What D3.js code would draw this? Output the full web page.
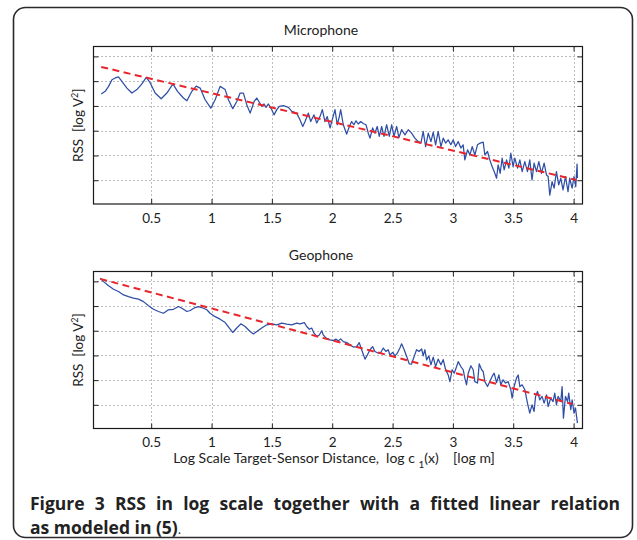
<!DOCTYPE html>
<html>
<head>
<meta charset="utf-8">
<script src="https://cdn.jsdelivr.net/npm/d3@7"></script>
<style>
  html, body { margin: 0; padding: 0; background: #fff; }
  svg { display: block; }
</style>
</head>
<body>
<svg id="chart" width="637" height="540"></svg>
<script>
// ---------------- DATA ----------------
const xTickValues = [0.5, 1, 1.5, 2, 2.5, 3, 3.5, 4];
const xTickLabels = ["0.5", "1", "1.5", "2", "2.5", "3", "3.5", "4"];
const yTickValues = [1, 2, 3, 4, 5, 6];

const panelTitles = ["Microphone", "Geophone"];

// Microphone RSS (log scale), measured
const micX = [0.086,0.119,0.147,0.175,0.202,0.229,0.257,0.299,0.340,0.382,0.423,0.459,0.492,0.533,0.583,0.630,0.680,0.718,0.767,0.796,
  0.837,0.873,0.906,0.947,0.994,1.030,1.071,1.113,1.140,1.176,1.209,1.237,1.264,1.292,1.320,1.353,1.375,1.416,1.435,1.452,
  1.471,1.499,1.518,1.541,1.562,1.595,1.637,1.665,1.706,1.733,1.756,1.775,1.802,1.822,1.849,1.872,1.899,1.918,1.940,1.959,
  1.982,2.004,2.023,2.042,2.059,2.070,2.092,2.120,2.142,2.161,2.180,2.197,2.216,2.236,2.257,2.280,2.299,2.313,2.335,2.354,
  2.373,2.390,2.410,2.429,2.451,2.473,2.493,2.512,2.534,2.553,2.575,2.603,2.630,2.658,2.685,2.713,2.735,2.754,2.774,2.796,
  2.818,2.837,2.857,2.878,2.901,2.920,2.940,2.961,2.983,3.003,3.022,3.044,3.066,3.085,3.099,3.122,3.141,3.160,3.182,3.204,
  3.226,3.251,3.265,3.287,3.306,3.325,3.342,3.362,3.375,3.392,3.408,3.425,3.445,3.464,3.480,3.499,3.513,3.536,3.555,3.574,
  3.596,3.618,3.637,3.656,3.673,3.693,3.712,3.734,3.756,3.776,3.789,3.803,3.822,3.839,3.858,3.877,3.894,3.913,3.933,3.954,
  3.968,3.988,4.004,4.018,4.029,4.032];
const micY = [4.48,4.59,4.79,5.06,5.13,5.17,4.99,4.72,4.52,4.66,4.89,5.15,4.93,4.52,4.29,4.52,4.89,4.59,4.32,4.21,
  4.59,4.80,4.72,4.25,3.91,4.25,4.79,4.66,4.25,3.89,4.18,4.52,4.52,4.05,3.71,4.18,4.32,3.98,4.08,3.94,
  4.08,3.85,3.64,3.85,3.98,4.01,3.94,3.78,3.71,3.44,3.17,3.37,3.71,3.37,3.64,3.31,3.57,3.85,3.37,3.57,
  3.11,3.51,3.85,3.24,3.57,3.85,3.24,2.86,3.17,3.37,3.24,3.40,3.27,3.37,3.29,3.24,2.90,2.70,3.11,2.90,
  3.17,2.77,3.17,2.77,3.24,2.77,3.24,2.77,3.17,2.72,3.04,2.83,3.04,2.90,2.70,2.56,2.50,2.97,2.36,2.90,
  2.56,2.94,2.43,2.97,2.36,2.70,2.50,2.63,2.43,2.63,2.36,2.56,2.30,2.43,1.82,2.23,2.02,2.36,2.02,2.43,
  2.50,2.54,2.02,2.16,1.82,1.55,1.35,1.08,1.62,1.28,1.89,1.42,1.82,1.49,2.09,1.55,1.89,1.49,1.82,1.35,
  1.75,1.35,1.82,1.01,1.69,1.35,1.75,1.28,1.69,1.21,1.15,0.40,0.94,0.68,1.35,0.81,1.08,0.61,1.15,0.54,
  1.08,0.68,1.15,0.74,1.65,1.09];
const micFitX = [0.086, 4.024];
const micFitY = [5.575, 1.01];

// Geophone RSS (log scale), measured
const geoX = [0.078,0.105,0.147,0.188,0.229,0.271,0.312,0.353,0.395,0.436,0.478,0.519,0.560,0.602,0.643,0.685,0.726,0.754,0.796,0.823,
  0.864,0.892,0.933,0.961,0.988,1.030,1.071,1.113,1.148,1.176,1.209,1.243,1.278,1.320,1.347,1.375,1.416,1.458,1.499,1.541,
  1.582,1.623,1.665,1.706,1.733,1.769,1.789,1.810,1.830,1.849,1.872,1.893,1.913,1.926,1.949,1.982,2.009,2.031,2.051,2.070,
  2.092,2.120,2.147,2.175,2.203,2.224,2.244,2.272,2.291,2.313,2.335,2.354,2.382,2.402,2.423,2.445,2.464,2.478,2.501,2.520,
  2.539,2.561,2.575,2.594,2.617,2.638,2.658,2.677,2.699,2.719,2.741,2.754,2.768,2.782,2.801,2.818,2.837,2.857,2.878,2.901,
  2.920,2.940,2.961,2.975,2.994,3.011,3.031,3.044,3.066,3.085,3.099,3.113,3.127,3.149,3.168,3.182,3.204,3.218,3.238,3.251,
  3.265,3.287,3.306,3.325,3.342,3.362,3.381,3.397,3.416,3.436,3.458,3.480,3.491,3.507,3.527,3.541,3.555,3.574,3.596,3.618,
  3.637,3.656,3.673,3.685,3.701,3.720,3.739,3.756,3.776,3.789,3.811,3.830,3.844,3.858,3.872,3.894,3.905,3.916,3.933,3.950,
  3.960,3.977,3.988,4.004,4.016,4.032];
const geoY = [6.13,5.99,5.82,5.68,5.59,5.45,5.38,5.32,5.28,5.18,5.01,4.87,4.78,4.71,4.85,4.87,4.98,4.91,4.78,4.82,
  4.94,4.98,4.91,4.85,4.71,4.57,4.47,4.33,4.11,3.93,4.11,4.28,4.17,3.97,3.87,3.97,4.11,4.24,4.28,4.24,
  4.31,4.27,4.24,4.31,4.28,4.33,4.17,4.06,4.11,3.90,3.77,3.83,4.00,3.83,3.70,3.63,3.60,3.66,3.59,3.67,
  3.56,3.52,3.43,3.34,3.36,3.52,3.23,2.85,3.02,3.23,3.36,3.16,3.09,3.12,3.30,3.16,3.23,3.02,3.12,2.98,
  3.09,3.30,3.47,3.26,2.96,2.66,2.65,2.93,3.23,3.16,3.26,2.98,3.23,2.82,2.98,2.62,2.93,2.55,2.85,2.62,
  2.83,2.42,2.21,1.94,2.42,2.28,2.55,2.75,2.55,2.42,2.08,1.81,2.28,2.58,2.42,1.94,1.88,2.66,2.42,2.35,
  1.94,1.74,1.94,2.15,2.28,1.90,2.21,1.81,2.01,1.88,1.94,1.61,1.27,1.74,2.08,2.21,1.74,1.81,1.61,1.07,
  0.66,1.00,0.73,1.34,1.54,1.20,1.34,1.07,1.40,0.93,1.27,1.13,1.47,1.00,1.34,1.13,1.74,0.46,1.34,1.13,
  1.47,0.80,1.20,0.66,0.87,0.26];
const geoFitX = [0.078, 3.99];
const geoFitY = [6.10, 1.03];

// ---------------- DRAWING ----------------
const svg = d3.select("#chart");
const FONT = "Lato, 'Open Sans', sans-serif";
const CAP_FONT = "'Open Sans', 'Noto Sans', sans-serif";

// outer rounded frame
svg.append("rect")
  .attr("x", 13.5).attr("y", 7.5).attr("width", 619).attr("height", 530)
  .attr("rx", 12).attr("ry", 12)
  .attr("fill", "none").attr("stroke", "#2a2a2a").attr("stroke-width", 1.6);

const left = 93.5, right = 582.5;
const panels = [
  { top: 46.5, bottom: 204, title: panelTitles[0], titleY: 35, xs: micX, ys: micY, fx: micFitX, fy: micFitY, xlabel: false },
  { top: 271.5, bottom: 428.5, title: panelTitles[1], titleY: 260, xs: geoX, ys: geoY, fx: geoFitX, fy: geoFitY, xlabel: true }
];

panels.forEach(p => {
  const x = d3.scaleLinear().domain([0.022, 4.074]).range([left, right]);
  const y = d3.scaleLinear().domain([0.04, 6.4]).range([p.bottom, p.top]);
  const g = svg.append("g");

  // grid
  g.selectAll(".vg").data(xTickValues).enter().append("line")
    .attr("x1", d => Math.round(x(d)) + 0.5).attr("x2", d => Math.round(x(d)) + 0.5)
    .attr("y1", p.top).attr("y2", p.bottom)
    .attr("stroke", "#7a7a7a").attr("stroke-width", 1).attr("stroke-dasharray", "1,3");
  g.selectAll(".hg").data(yTickValues).enter().append("line")
    .attr("x1", left).attr("x2", right)
    .attr("y1", d => Math.round(y(d)) + 0.5).attr("y2", d => Math.round(y(d)) + 0.5)
    .attr("stroke", "#7a7a7a").attr("stroke-width", 1).attr("stroke-dasharray", "1,3");

  // measured line
  const pts = p.xs.map((v, i) => [v, p.ys[i]]);
  g.append("path").datum(pts)
    .attr("fill", "none").attr("stroke", "#2f4ea6").attr("stroke-width", 1.25)
    .attr("stroke-linejoin", "round")
    .attr("d", d3.line().x(d => x(d[0])).y(d => y(d[1])));

  // fitted line
  const fpts = p.fx.map((v, i) => [v, p.fy[i]]);
  g.append("path").datum(fpts)
    .attr("fill", "none").attr("stroke", "#e8262b").attr("stroke-width", 2)
    .attr("stroke-dasharray", "7,4.5")
    .attr("d", d3.line().x(d => x(d[0])).y(d => y(d[1])));

  // axes (ticks inward on all four sides)
  const xb = d3.axisBottom(x).tickValues(xTickValues).tickFormat((d, i) => xTickLabels[i])
    .tickSizeInner(-5).tickSizeOuter(0).tickPadding(9);
  const xt = d3.axisTop(x).tickValues(xTickValues).tickFormat("").tickSizeInner(-5).tickSizeOuter(0);
  const yl = d3.axisLeft(y).tickValues(yTickValues).tickFormat("").tickSizeInner(-5).tickSizeOuter(0);
  const yr = d3.axisRight(y).tickValues(yTickValues).tickFormat("").tickSizeInner(-5).tickSizeOuter(0);

  const styleAxis = sel => {
    sel.select(".domain").remove();
    sel.selectAll(".tick line").attr("stroke", "#222");
    sel.selectAll("text").attr("font-family", FONT).attr("font-size", 13.5).attr("fill", "#222");
  };
  g.append("g").attr("transform", `translate(0,${p.bottom})`).call(xb).call(styleAxis);
  g.append("g").attr("transform", `translate(0,${p.top})`).call(xt).call(styleAxis);
  g.append("g").attr("transform", `translate(${left},0)`).call(yl).call(styleAxis);
  g.append("g").attr("transform", `translate(${right},0)`).call(yr).call(styleAxis);

  // box
  g.append("rect").attr("x", left).attr("y", p.top)
    .attr("width", right - left).attr("height", p.bottom - p.top)
    .attr("fill", "none").attr("stroke", "#1a1a1a").attr("stroke-width", 1.2);

  // title
  g.append("text").attr("x", 321).attr("y", p.titleY)
    .attr("text-anchor", "middle").attr("font-family", FONT).attr("font-size", 14)
    .attr("fill", "#222").text(p.title);

  // y label
  const yl2 = g.append("text")
    .attr("transform", `translate(83,${(p.top + p.bottom) / 2}) rotate(-90)`)
    .attr("text-anchor", "middle").attr("font-family", FONT).attr("font-size", 13.5)
    .attr("fill", "#222").style("white-space", "pre");
  yl2.append("tspan").text("RSS  [log V");
  yl2.append("tspan").attr("font-size", 9).attr("dy", -5).text("2");
  yl2.append("tspan").attr("dy", 5).text("]");

  if (p.xlabel) {
    const xl = g.append("text").attr("x", 334).attr("y", 463)
      .attr("text-anchor", "middle").attr("font-family", FONT).attr("font-size", 14)
      .attr("fill", "#222").style("white-space", "pre");
    xl.append("tspan").text("Log Scale Target-Sensor Distance,  log c ");
    xl.append("tspan").attr("font-size", 10).attr("dy", 5).text("1");
    xl.append("tspan").attr("dy", -5).text("(x)    [log m]");
  }
});

// caption: first line justified by laying out words between x=30 and x=620
const capWords = ["Figure", "3", "RSS", "in", "log", "scale", "together", "with", "a", "fitted", "linear", "relation"];
const capG = svg.append("g");
const wordSel = capG.selectAll("text").data(capWords).enter().append("text")
  .attr("y", 510).attr("x", 30)
  .attr("font-family", CAP_FONT).attr("font-size", 17.5).attr("font-weight", "bold")
  .attr("fill", "#222").style("font-variant-ligatures", "none")
  .text(d => d);
function justify() {
  const widths = wordSel.nodes().map(n => n.getComputedTextLength());
  const total = d3.sum(widths);
  const gap = (590 - total) / (capWords.length - 1);
  let cx = 30;
  wordSel.attr("x", (d, i) => { const v = cx; cx += widths[i] + gap; return v; });
}
justify();
if (document.fonts && document.fonts.ready) document.fonts.ready.then(justify);

const cap2 = svg.append("text").attr("x", 30).attr("y", 534)
  .attr("font-family", CAP_FONT).attr("font-size", 17.5).attr("fill", "#222");
cap2.append("tspan").attr("font-weight", "bold").text("as modeled in (5)");
cap2.append("tspan").attr("font-size", 13).text(".");
</script>
</body>
</html>
